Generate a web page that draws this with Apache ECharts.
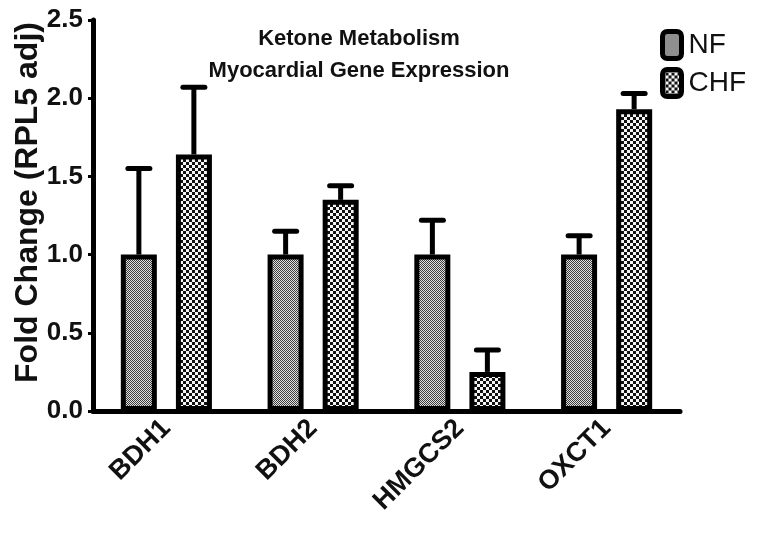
<!DOCTYPE html>
<html>
<head>
<meta charset="utf-8">
<script src="https://cdn.jsdelivr.net/npm/echarts@6/dist/echarts.min.js"></script>
<style>
html,body{margin:0;padding:0;background:#fff;}
#chart{width:762px;height:539px;}
</style>
</head>
<body>
<div id="chart"></div>
<script>
var categories = ['BDH1', 'BDH2', 'HMGCS2', 'OXCT1'];
var nfMean = [1.0, 1.0, 1.0, 1.0];
var nfErrTop = [1.55, 1.15, 1.22, 1.12];
var chfMean = [1.64, 1.35, 0.25, 1.93];
var chfErrTop = [2.07, 1.44, 0.39, 2.03];
var yTicks = [0.0, 0.5, 1.0, 1.5, 2.0, 2.5];
var titleText = 'Ketone Metabolism\nMyocardial Gene Expression';
var yName = 'Fold Change (RPL5 adj)';

function makePattern(cell, dark, light) {
  var c = document.createElement('canvas');
  c.width = cell * 2; c.height = cell * 2;
  var ctx = c.getContext('2d');
  ctx.fillStyle = light; ctx.fillRect(0, 0, cell * 2, cell * 2);
  ctx.fillStyle = dark;
  ctx.fillRect(0, 0, cell, cell);
  ctx.fillRect(cell, cell, cell, cell);
  return c;
}
var nfPattern = { image: makePattern(1, '#3c3c3c', '#e2e2e2'), repeat: 'repeat' };
var chfPattern = { image: makePattern(3, '#111111', '#f6f6f6'), repeat: 'repeat' };

var BAR_W = 36, OFFSET = 27.5;
function errorSeries(name, means, tops, off) {
  return {
    type: 'custom',
    name: name + '_err',
    z: 1,
    data: categories.map(function (c, i) { return [i, means[i], tops[i]]; }),
    renderItem: function (params, api) {
      var base = api.coord([api.value(0), api.value(1)]);
      var top = api.coord([api.value(0), api.value(2)]);
      var x = base[0] + off;
      return {
        type: 'group',
        children: [
          { type: 'line', shape: { x1: x, y1: base[1], x2: x, y2: top[1] }, style: { stroke: '#000', lineWidth: 5 } },
          { type: 'line', shape: { x1: x - 11, y1: top[1], x2: x + 11, y2: top[1] }, style: { stroke: '#000', lineWidth: 5, lineCap: 'round' } }
        ]
      };
    }
  };
}

var chart = echarts.init(document.getElementById('chart'));
chart.setOption({
  animation: false,
  backgroundColor: '#fff',
  title: {
    text: titleText,
    left: 354, top: 18, textAlign: 'center',
    textStyle: { fontFamily: 'Liberation Sans', fontWeight: 'bold', fontSize: 22, lineHeight: 32, color: '#111' }
  },
  legend: {
    orient: 'vertical',
    left: 655, top: 24,
    itemWidth: 19, itemHeight: 27, itemGap: 6,
    data: [
      { name: 'NF', icon: 'roundRect', itemStyle: { color: nfPattern, borderColor: '#000', borderWidth: 5 } },
      { name: 'CHF', icon: 'roundRect', itemStyle: { color: chfPattern, borderColor: '#000', borderWidth: 5 } }
    ],
    textStyle: { fontFamily: 'Liberation Sans', fontSize: 28, color: '#111', padding: [0, 0, 0, 2] }
  },
  grid: { left: 93, right: 82, top: 20, bottom: 128, containLabel: false, outerBoundsMode: 'none' },
  xAxis: {
    type: 'category',
    data: categories,
    axisLine: { lineStyle: { color: '#000', width: 5 } },
    axisTick: { alignWithLabel: true, length: 5, lineStyle: { color: '#000', width: 3 } },
    axisLabel: { rotate: 45, margin: 13, fontFamily: 'Liberation Sans', fontWeight: 'bold', fontSize: 27, color: '#111' }
  },
  yAxis: {
    type: 'value',
    min: 0, max: 2.5, interval: 0.5,
    name: yName,
    nameLocation: 'middle',
    nameGap: 49,
    nameMoveOverlap: false,
    nameTextStyle: { fontFamily: 'Liberation Sans', fontWeight: 'bold', fontSize: 32, color: '#111', padding: [0, 0, 0, 26] },
    splitLine: { show: false },
    axisLine: { show: true, lineStyle: { color: '#000', width: 5 } },
    axisTick: { show: true, length: 5, lineStyle: { color: '#000', width: 3 } },
    axisLabel: {
      margin: 10, fontFamily: 'Liberation Sans', fontWeight: 'bold', fontSize: 26, color: '#111',
      formatter: function (v) { return yTicks.indexOf(v) >= 0 ? v.toFixed(1) : ''; }
    }
  },
  series: [
    errorSeries('NF', nfMean, nfErrTop, -OFFSET),
    errorSeries('CHF', chfMean, chfErrTop, OFFSET),
    {
      type: 'bar', name: 'NF', data: nfMean, barWidth: BAR_W, barGap: '53%', z: 2,
      itemStyle: { color: nfPattern, borderColor: '#000', borderWidth: 5 }
    },
    {
      type: 'bar', name: 'CHF', data: chfMean, barWidth: BAR_W, barGap: '53%', z: 2,
      itemStyle: { color: chfPattern, borderColor: '#000', borderWidth: 5 }
    }
  ]
});
</script>
</body>
</html>
